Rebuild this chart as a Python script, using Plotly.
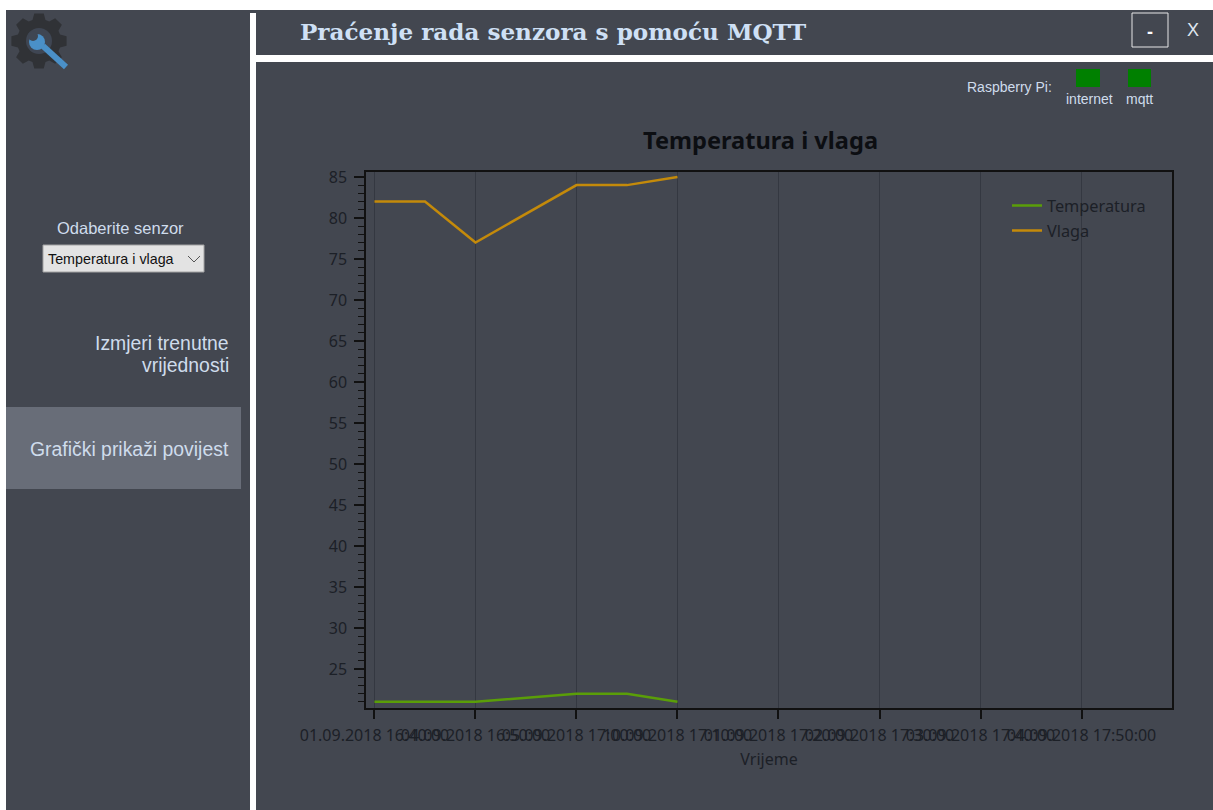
"""Temperatura i vlaga - MQTT sensor history window."""

import math
import plotly.graph_objects as go

W, H = 1213, 810

# minutes after 16:40
minute = [0, 5, 10, 20, 25, 30]
temperatura = [21, 21, 21, 22, 22, 21]
vlaga = [82, 82, 77, 84, 84, 85]

tick_minutes = [0, 10, 20, 30, 40, 50, 60, 70]
tick_labels = [
    "01.09.2018 16:40:00", "04.09.2018 16:50:00", "05.09.2018 17:00:00", "10.09.2018 17:10:00",
    "01.09.2018 17:20:00", "02.09.2018 17:30:00", "03.09.2018 17:40:00", "04.09.2018 17:50:00",
]

BG = "#434750"
WHITE = "#ffffff"
TICK = "#1c2027"
LIGHT = "#cfdcec"


def px(x):
    return x / W


def py(y):
    return 1 - y / H


def rect(x0, y0, x1, y1, fill, line=None, width=1):
    return dict(type="rect", xref="paper", yref="paper", x0=px(x0), x1=px(x1), y0=py(y0), y1=py(y1),
                fillcolor=fill, line=dict(color=line or fill, width=width if line else 0), layer="below")


def seg(x0, y0, x1, y1, color, width):
    return dict(type="line", xref="paper", yref="paper", x0=px(x0), x1=px(x1), y0=py(y0), y1=py(y1),
                line=dict(color=color, width=width), layer="below")


def circle(cx, cy, r, fill):
    return dict(type="circle", xref="paper", yref="paper", x0=px(cx - r), x1=px(cx + r), y0=py(cy + r), y1=py(cy - r),
                fillcolor=fill, line=dict(width=0), layer="below")


def label(x, y, text, size, color=LIGHT, anchor="left", family="Liberation Sans", weight=None):
    return dict(xref="paper", yref="paper", x=px(x), y=py(y), text=text, showarrow=False, xanchor=anchor,
                yanchor="middle", align=anchor, font=dict(size=size, color=color, family=family, weight=weight))


def gear_path(cx, cy, r_out, r_in, teeth=8):
    pts = []
    step = 2 * math.pi / teeth
    for i in range(teeth):
        a = i * step
        for da, r in ((-0.30, r_in), (-0.17, r_out), (0.17, r_out), (0.30, r_in)):
            pts.append((cx + r * math.cos(a + da), cy + r * math.sin(a + da)))
    return "M " + " L ".join(f"{px(x):.5f},{py(y):.5f}" for x, y in pts) + " Z"


fig = go.Figure()
fig.add_trace(go.Scatter(x=minute, y=temperatura, mode="lines", name="Temperatura", showlegend=True,
                         line=dict(color="#5a9e08", width=2.5), legend="legend"))
fig.add_trace(go.Scatter(x=minute, y=vlaga, mode="lines", name="Vlaga", showlegend=True,
                         line=dict(color="#c48a0a", width=2.5), legend="legend2"))

shapes = [
    rect(0, 0, W, H, WHITE),
    rect(6, 10, W, H, BG),
    rect(250, 13, 256, H, WHITE),
    rect(256, 55, W, 62, WHITE),
    rect(6, 407, 241, 489, "#686d78"),
    rect(43, 245, 204, 272, "#e3e3e3", "#a3a3a3", 1),
    seg(188, 256, 194, 262, "#555555", 1),
    seg(194, 262, 200, 256, "#555555", 1),
    rect(1132, 13, 1168, 47, "rgba(0,0,0,0)", "#e6e6e6", 1),
    rect(1076, 69, 1100, 87, "#008000"),
    rect(1128, 69, 1151, 87, "#008000"),
    # gear and wrench icon
    dict(type="path", xref="paper", yref="paper", path=gear_path(39, 41, 28, 22), fillcolor="#303236",
         line=dict(width=0), layer="below"),
    circle(39, 41, 13, "#3f4653"),
    seg(43, 46, 66, 67, "#4a90c8", 6),
    circle(37, 42, 8, "#4a90c8"),
    circle(33, 36, 5, "#3f4653"),
]

annotations = [
    label(298, 31, "Praćenje rada senzora s pomoću MQTT", 23.1, "#cfe0f5", family="DejaVu Serif", weight="bold"),
    label(1193, 30, "X", 18, "#dfe6ef", "center"),
    label(1150, 32, "-", 18, WHITE, "center", weight="bold"),
    label(965, 87, "Raspberry Pi:", 14),
    label(1089, 99, "internet", 14, anchor="center"),
    label(1139, 99, "mqtt", 14, anchor="center"),
    label(120, 228, "Odaberite senzor", 16.5, anchor="center"),
    label(46, 259, "Temperatura i vlaga", 14.3, "#111111"),
    label(231, 343, "Izmjeri trenutne", 19.4, anchor="right"),
    label(231, 365, "vrijednosti", 19.4, anchor="right"),
    label(231, 449, "Grafički prikaži povijest", 19.4, anchor="right"),
]

fig.update_layout(
    width=W, height=H,
    autosize=False,
    margin=dict(l=0, r=0, t=0, b=0, pad=0, autoexpand=False),
    paper_bgcolor=WHITE,
    plot_bgcolor="rgba(0,0,0,0)",
    font=dict(family="Noto Sans", color=TICK, size=14),
    title=dict(text="<b>Temperatura i vlaga</b>", x=760.5 / W, xanchor="center", y=py(141), yanchor="middle",
               font=dict(family="Noto Sans", size=23.6, color="#0c0e12")),
    shapes=shapes,
    annotations=annotations,
    legend=dict(x=px(1007), y=py(206), xanchor="left", yanchor="middle", bgcolor="rgba(0,0,0,0)",
                font=dict(size=16.3, color=TICK)),
    legend2=dict(x=px(1007), y=py(231), xanchor="left", yanchor="middle", bgcolor="rgba(0,0,0,0)",
                 font=dict(size=16.3, color=TICK)),
)
fig.update_xaxes(
    domain=[px(366), px(1172)], range=[-0.84, 78.96],
    tickmode="array", tickvals=tick_minutes, ticktext=tick_labels, tickangle=0,
    ticks="outside", ticklen=9, tickcolor="#111111", tickwidth=1.5,
    tickfont=dict(size=16, color=TICK), ticklabelstandoff=3,
    showgrid=True, gridcolor="#343841", gridwidth=1, zeroline=False,
    showline=True, linecolor="#111111", linewidth=1.5, mirror=True,
    title=dict(text="Vrijeme", font=dict(size=16, color=TICK), standoff=9),
)
fig.update_yaxes(
    domain=[py(708), py(172)], range=[20.25, 85.6],
    tickmode="linear", tick0=25, dtick=5,
    ticks="outside", ticklen=10, tickcolor="#111111", tickwidth=1.5,
    tickfont=dict(size=16, color=TICK), ticklabelstandoff=4,
    minor=dict(dtick=1, tick0=25, ticks="outside", ticklen=6, tickcolor="#111111", tickwidth=1, showgrid=False),
    showgrid=False, zeroline=False,
    showline=True, linecolor="#111111", linewidth=1.5, mirror=True,
)

# the default page body has an 8px margin, the window is exactly the figure size
fig.write_html("out.html", config={"displayModeBar": False}, post_script="document.body.style.margin='0';")
